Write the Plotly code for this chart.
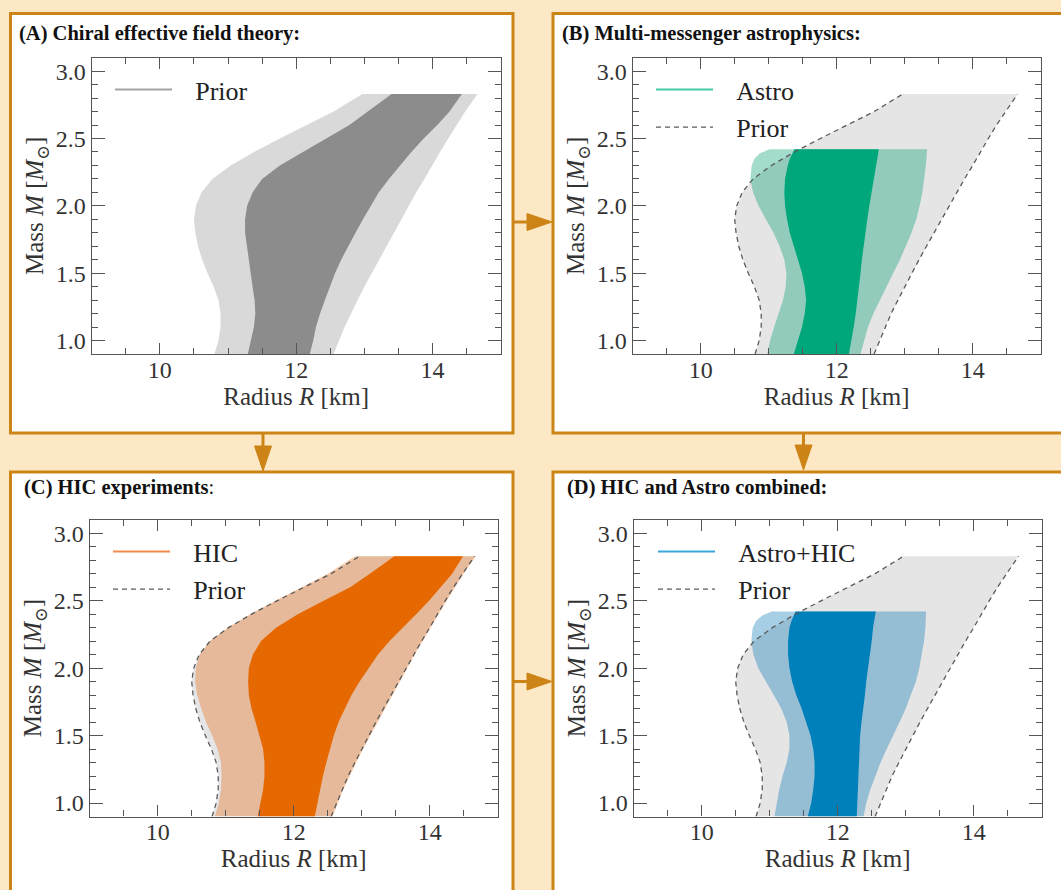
import plotly.graph_objects as go

W, H = 1061, 890

# ---------------- data: mass-radius credible bands ----------------
mass_prior = [0.9, 1.0, 1.1, 1.2, 1.3, 1.4, 1.5, 1.6, 1.7, 1.8, 1.9, 2.0,
              2.1, 2.2, 2.3, 2.4, 2.5, 2.6, 2.7, 2.83]

# chiral EFT prior, 95% band
prior95_left = [10.80, 10.86, 10.89, 10.89, 10.86, 10.79, 10.70, 10.62, 10.56, 10.52,
                10.50, 10.53, 10.61, 10.77, 11.04, 11.38, 11.76, 12.15, 12.55, 12.97]
prior95_right = [12.55, 12.63, 12.71, 12.80, 12.90, 13.00, 13.10, 13.21, 13.32, 13.43,
                 13.54, 13.65, 13.76, 13.88, 14.00, 14.11, 14.23, 14.35, 14.48, 14.66]
# chiral EFT prior, 68% band
prior68_left = [11.29, 11.33, 11.38, 11.40, 11.39, 11.36, 11.33, 11.30, 11.27, 11.25,
                11.25, 11.28, 11.36, 11.50, 11.76, 12.10, 12.44, 12.78, 13.05, 13.40]
prior68_right = [12.20, 12.25, 12.29, 12.35, 12.42, 12.49, 12.57, 12.66, 12.76, 12.87,
                 12.98, 13.09, 13.21, 13.36, 13.52, 13.69, 13.87, 14.07, 14.25, 14.43]

# heavy-ion collision constraints
hic95_left = [10.84, 10.90, 10.93, 10.94, 10.93, 10.88, 10.80, 10.71, 10.64, 10.58,
              10.55, 10.56, 10.62, 10.77, 11.03, 11.36, 11.73, 12.11, 12.50, 12.90]
hic95_right = [12.57, 12.65, 12.73, 12.82, 12.92, 13.02, 13.12, 13.23, 13.34, 13.45,
               13.56, 13.67, 13.78, 13.90, 14.02, 14.13, 14.25, 14.37, 14.50, 14.68]
hic68_left = [11.47, 11.51, 11.55, 11.57, 11.57, 11.55, 11.50, 11.44, 11.38, 11.34,
              11.33, 11.34, 11.40, 11.52, 11.74, 12.06, 12.44, 12.83, 13.12, 13.48]
hic68_right = [12.31, 12.35, 12.39, 12.43, 12.48, 12.53, 12.59, 12.66, 12.76, 12.85,
               12.97, 13.10, 13.24, 13.41, 13.60, 13.80, 13.99, 14.16, 14.33, 14.49]

mass_astro = [0.9, 1.0, 1.1, 1.2, 1.3, 1.4, 1.5, 1.6, 1.7, 1.8, 1.9, 2.0,
              2.1, 2.2, 2.3, 2.35, 2.39, 2.42]

# multi-messenger astrophysics
astro95_left = [10.98, 11.02, 11.08, 11.15, 11.21, 11.25, 11.26, 11.23, 11.16, 11.07,
                10.96, 10.85, 10.77, 10.73, 10.75, 10.79, 10.87, 11.01]
astro95_right = [12.35, 12.40, 12.46, 12.54, 12.63, 12.73, 12.83, 12.93, 13.02, 13.10,
                 13.17, 13.22, 13.26, 13.29, 13.31, 13.32, 13.33, 13.33]
astro68_left = [11.37, 11.43, 11.49, 11.53, 11.55, 11.53, 11.49, 11.43, 11.37, 11.31,
                11.27, 11.24, 11.23, 11.24, 11.28, 11.31, 11.35, 11.38]
astro68_right = [12.18, 12.22, 12.25, 12.28, 12.30, 12.33, 12.35, 12.37, 12.40, 12.42,
                 12.45, 12.48, 12.51, 12.54, 12.57, 12.59, 12.61, 12.62]

# astrophysics and heavy-ion collisions combined
comb95_left = [11.07, 11.10, 11.14, 11.19, 11.25, 11.29, 11.29, 11.25, 11.17, 11.06,
               10.94, 10.83, 10.76, 10.73, 10.75, 10.80, 10.89, 11.03]
comb95_right = [12.38, 12.42, 12.48, 12.55, 12.63, 12.72, 12.81, 12.91, 13.00, 13.08,
                13.15, 13.20, 13.24, 13.27, 13.29, 13.30, 13.30, 13.30]
comb68_left = [11.56, 11.61, 11.64, 11.66, 11.66, 11.64, 11.60, 11.54, 11.47, 11.39,
               11.33, 11.29, 11.27, 11.27, 11.29, 11.32, 11.36, 11.38]
comb68_right = [12.28, 12.29, 12.29, 12.30, 12.31, 12.32, 12.33, 12.35, 12.37, 12.40,
                12.42, 12.45, 12.47, 12.50, 12.52, 12.54, 12.55, 12.56]

panel_titles = ["<b>(A) Chiral effective field theory:</b>",
                "<b>(B) Multi-messenger astrophysics:</b>",
                "<b>(C) HIC experiments</b>:",
                "<b>(D) HIC and Astro combined:</b>"]
x_ticks = [10, 12, 14]
y_ticks = [1.0, 1.5, 2.0, 2.5, 3.0]

# ---------------- styling ----------------
SERIF = "'Liberation Serif', 'Times New Roman', Times, 'DejaVu Serif', serif"
ORANGE = "#cd8416"
PEACH = "#fde8c5"
AXC = "#555555"
GAP = "\u00a0\u00a0\u2009"
DASH = "5px,4px"


def px(x):
    return x / W


def py(y):
    return 1 - y / H


fig = go.Figure()


def band(mass, left, right, color, ax):
    fig.add_trace(go.Scatter(
        x=list(left) + list(right)[::-1],
        y=list(mass) + list(mass)[::-1],
        mode="lines", fill="toself", fillcolor=color,
        line=dict(width=0, color=color), hoverinfo="skip",
        showlegend=False, xaxis="x" + ax, yaxis="y" + ax))


def outline(mass, left, right, ax, leg):
    # left and right edges of the prior band; the flat top is left open
    fig.add_trace(go.Scatter(
        x=list(left) + [None] + list(right),
        y=list(mass) + [None] + list(mass),
        mode="lines", line=dict(color="#5a5a5a", width=1.3, dash=DASH),
        name=GAP + "Prior", legend=leg, legendgroup="prior", hoverinfo="skip",
        xaxis="x" + ax, yaxis="y" + ax))


def legend_line(name, color, ax, leg):
    fig.add_trace(go.Scatter(
        x=[None], y=[None], mode="lines", line=dict(color=color, width=2),
        name=GAP + name, legend=leg, legendgroup="main",
        xaxis="x" + ax, yaxis="y" + ax))


# (A) chiral EFT prior
band(mass_prior, prior95_left, prior95_right, "#d9d9d9", "")
band(mass_prior, prior68_left, prior68_right, "#8c8c8c", "")
legend_line("Prior", "#a3a3a3", "", "legend")

# (B) astrophysics
band(mass_prior, prior95_left, prior95_right, "#e5e5e5", "2")
band(mass_astro, astro95_left, astro95_right, "rgba(0,158,115,0.36)", "2")
band(mass_astro, astro68_left, astro68_right, "#00a77a", "2")
legend_line("Astro", "#45c9a6", "2", "legend2")
outline(mass_prior, prior95_left, prior95_right, "2", "legend2")

# (C) heavy-ion collisions
band(mass_prior, prior95_left, prior95_right, "#e5e5e5", "3")
band(mass_prior, hic95_left, hic95_right, "rgba(230,97,0,0.33)", "3")
band(mass_prior, hic68_left, hic68_right, "#e66800", "3")
legend_line("HIC", "#f28b4e", "3", "legend3")
outline(mass_prior, prior95_left, prior95_right, "3", "legend3")

# (D) combined
band(mass_prior, prior95_left, prior95_right, "#e5e5e5", "4")
band(mass_astro, comb95_left, comb95_right, "rgba(0,114,178,0.35)", "4")
band(mass_astro, comb68_left, comb68_right, "#0080bb", "4")
legend_line("Astro+HIC", "#3ba6dc", "4", "legend4")
outline(mass_prior, prior95_left, prior95_right, "4", "legend4")

# ---------------- axes ----------------
tickfont = dict(family=SERIF, size=24, color="#333333")
titlefont = dict(family=SERIF, size=25, color="#333333")


def xaxis(domain, anchor):
    return dict(domain=domain, anchor=anchor, range=[9, 15],
                tickmode="array", tickvals=x_ticks, ticktext=[str(v) for v in x_ticks],
                ticks="inside", ticklen=11, tickwidth=1.3, tickcolor=AXC,
                showline=True, linecolor=AXC, linewidth=1.3, mirror="allticks",
                showgrid=False, zeroline=False, tickfont=tickfont,
                ticklabelstandoff=-6,
                minor=dict(tickmode="linear", tick0=9, dtick=0.5, ticks="inside",
                           ticklen=6, tickwidth=1.3, tickcolor=AXC, showgrid=False),
                title=dict(text="Radius <i>R</i> [km]", font=titlefont, standoff=2))


def yaxis(domain, anchor):
    return dict(domain=domain, anchor=anchor, range=[0.9, 3.1],
                tickmode="array", tickvals=y_ticks, ticktext=[f"{v:.1f}" for v in y_ticks],
                ticks="inside", ticklen=13, tickwidth=1.3, tickcolor=AXC,
                showline=True, linecolor=AXC, linewidth=1.3, mirror="allticks",
                showgrid=False, zeroline=False, tickfont=tickfont,
                minor=dict(tickmode="linear", tick0=0.9, dtick=0.1, ticks="inside",
                           ticklen=6, tickwidth=1.3, tickcolor=AXC, showgrid=False),
                title=dict(text="Mass <i>M</i> [<i>M</i><sub>⊙</sub>]", font=titlefont,
                           standoff=4))


top_y = [py(354), py(57.7)]
bot_y = [py(816.5), py(519.7)]

layout = dict(
    width=W, height=H, margin=dict(l=0, r=0, t=0, b=0),
    paper_bgcolor=PEACH, plot_bgcolor="white",
    font=dict(family=SERIF),
    xaxis=xaxis([px(91.7), px(500.7)], "y"), yaxis=yaxis(top_y, "x"),
    xaxis2=xaxis([px(632.7), px(1040.7)], "y2"), yaxis2=yaxis(top_y, "x2"),
    xaxis3=xaxis([px(89.7), px(497.7)], "y3"), yaxis3=yaxis(bot_y, "x3"),
    xaxis4=xaxis([px(633.7), px(1041.7)], "y4"), yaxis4=yaxis(bot_y, "x4"),
)

legfont = dict(family=SERIF, size=26, color="#222222")


def legend(x, y):
    return dict(x=px(x), y=py(y), xanchor="left", yanchor="top",
                bgcolor="rgba(0,0,0,0)", font=legfont, itemwidth=57,
                traceorder="grouped", tracegroupgap=1)


layout["legend"] = legend(110, 66)
layout["legend2"] = legend(651, 66)
layout["legend3"] = legend(108, 528)
layout["legend4"] = legend(653, 528)
fig.update_layout(**layout)

# ---------------- panel frames, titles and arrows ----------------
shapes = []
frames = [(10.5, 13.5, 513, 433), (553, 13.5, 1075, 433),
          (10.5, 472, 513, 905), (553, 472, 1075, 905)]
for x0, y0, x1, y1 in frames:
    shapes.append(dict(type="rect", xref="paper", yref="paper", layer="below",
                       x0=px(x0), x1=px(x1), y0=py(y1), y1=py(y0),
                       fillcolor="white", line=dict(color=ORANGE, width=3)))


def arrow_h(y, x0, x1):
    shapes.append(dict(type="line", xref="paper", yref="paper",
                       x0=px(x0), x1=px(x1 - 20), y0=py(y), y1=py(y),
                       line=dict(color=ORANGE, width=3)))
    shapes.append(dict(type="path", xref="paper", yref="paper",
                       path=f"M{px(x1 - 25)},{py(y - 8.5)} L{px(x1)},{py(y)} "
                            f"L{px(x1 - 25)},{py(y + 8.5)} Z",
                       fillcolor=ORANGE, line=dict(color=ORANGE, width=1)))


def arrow_v(x, y0, y1):
    shapes.append(dict(type="line", xref="paper", yref="paper",
                       x0=px(x), x1=px(x), y0=py(y0), y1=py(y1 - 20),
                       line=dict(color=ORANGE, width=3)))
    shapes.append(dict(type="path", xref="paper", yref="paper",
                       path=f"M{px(x - 8.5)},{py(y1 - 25)} L{px(x)},{py(y1)} "
                            f"L{px(x + 8.5)},{py(y1 - 25)} Z",
                       fillcolor=ORANGE, line=dict(color=ORANGE, width=1)))


arrow_h(222, 513, 552)
arrow_h(681.5, 513, 552)
arrow_v(263, 433, 471)
arrow_v(803.5, 433, 470)

annotations = []
title_pos = [(17, 33), (560, 33), (22, 487), (565, 487)]
for text, (x, y) in zip(panel_titles, title_pos):
    annotations.append(dict(text=text, x=px(x), y=py(y), xref="paper", yref="paper",
                            xanchor="left", yanchor="middle", showarrow=False,
                            font=dict(family=SERIF, size=20.5, color="#111111")))

fig.update_layout(shapes=shapes, annotations=annotations)

fig.write_html("out.html")
